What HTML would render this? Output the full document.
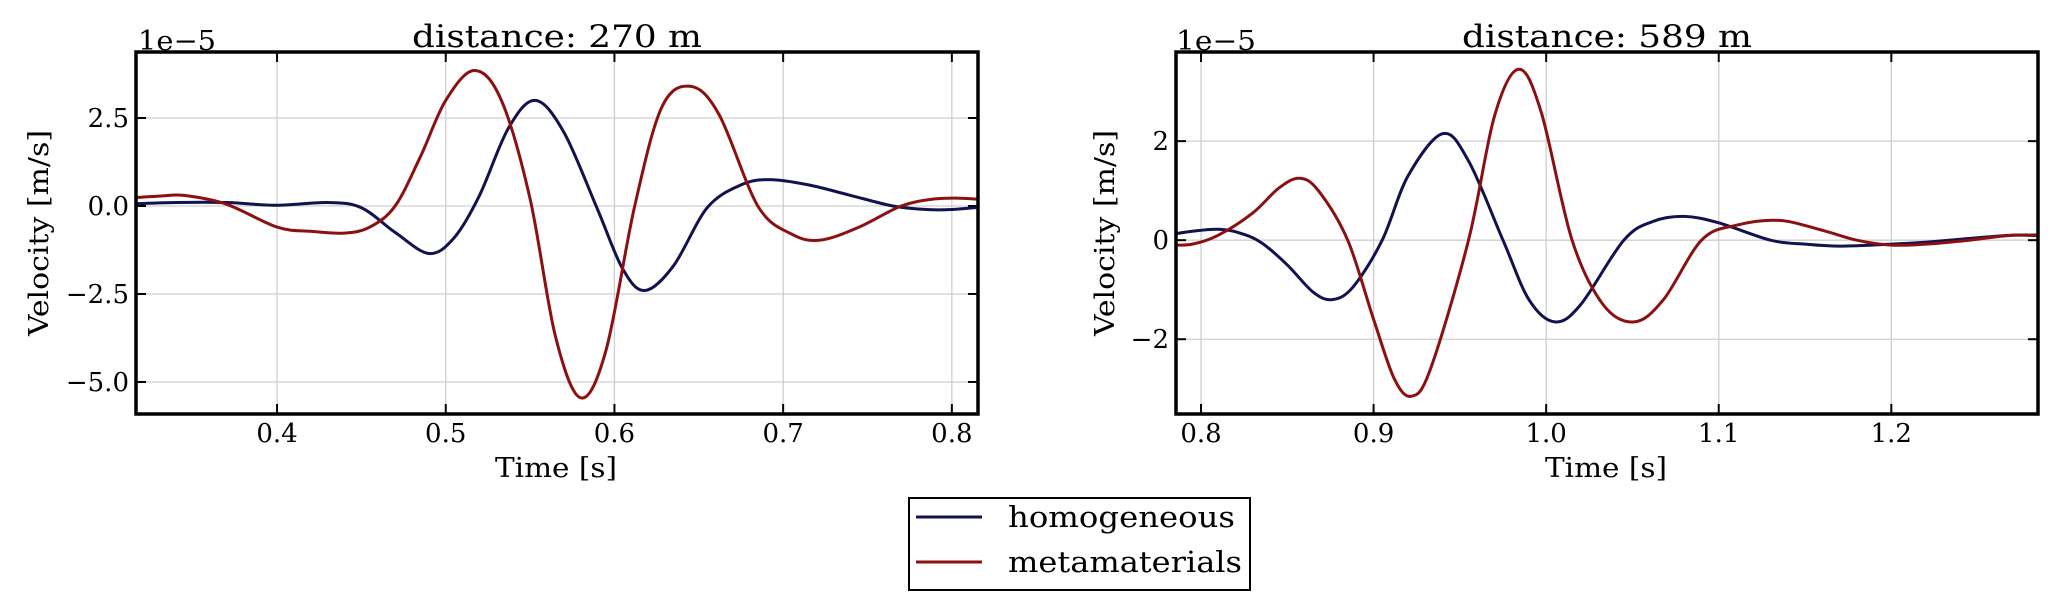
<!DOCTYPE html>
<html><head><meta charset="utf-8">
<style>
html,body{margin:0;padding:0;background:#fff;}
svg{display:block;}
text{font-family:"DejaVu Serif","Liberation Serif",serif;fill:#000;}
</style></head>
<body>
<svg id="s" width="2067" height="608" xmlns="http://www.w3.org/2000/svg">
<g id="g1"></g>
<g id="g2"></g>
<text x="557" y="47" font-size="31" text-anchor="middle" textLength="290" lengthAdjust="spacingAndGlyphs">distance: 270 m</text>
<text x="1607" y="47" font-size="31" text-anchor="middle" textLength="290" lengthAdjust="spacingAndGlyphs">distance: 589 m</text>
<text x="138" y="50" font-size="27" textLength="78" lengthAdjust="spacingAndGlyphs">1e−5</text>
<text x="1176" y="50" font-size="27" textLength="80" lengthAdjust="spacingAndGlyphs">1e−5</text>
<text x="556" y="477" font-size="27" text-anchor="middle" textLength="122" lengthAdjust="spacingAndGlyphs">Time [s]</text>
<text x="1606" y="477" font-size="27" text-anchor="middle" textLength="122" lengthAdjust="spacingAndGlyphs">Time [s]</text>
<text transform="translate(48,233) rotate(-90)" font-size="27" text-anchor="middle" textLength="206" lengthAdjust="spacingAndGlyphs">Velocity [m/s]</text>
<text transform="translate(1114,233) rotate(-90)" font-size="27" text-anchor="middle" textLength="206" lengthAdjust="spacingAndGlyphs">Velocity [m/s]</text>
<rect x="909" y="498" width="341" height="92" fill="#fff" stroke="#000" stroke-width="2"/>
<line x1="916" y1="517" x2="982" y2="517" stroke="#12124f" stroke-width="3"/>
<line x1="916" y1="562" x2="982" y2="562" stroke="#8b1010" stroke-width="3"/>
<text x="1008" y="527" font-size="29" textLength="227" lengthAdjust="spacingAndGlyphs">homogeneous</text>
<text x="1008" y="572" font-size="29" textLength="234" lengthAdjust="spacingAndGlyphs">metamaterials</text>
</svg>
<script>
const NS="http://www.w3.org/2000/svg";
function el(p,t,a){const e=document.createElementNS(NS,t);for(const k in a)e.setAttribute(k,a[k]);p.appendChild(e);return e;}
function catmull(pts){let d="M"+pts[0][0].toFixed(1)+","+pts[0][1].toFixed(1);
for(let i=0;i<pts.length-1;i++){const p0=pts[i-1]||pts[i],p1=pts[i],p2=pts[i+1],p3=pts[i+2]||p2;
const c1=[p1[0]+(p2[0]-p0[0])/6,p1[1]+(p2[1]-p0[1])/6],c2=[p2[0]-(p3[0]-p1[0])/6,p2[1]-(p3[1]-p1[1])/6];
d+="C"+c1.map(v=>v.toFixed(1))+" "+c2.map(v=>v.toFixed(1))+" "+p2.map(v=>v.toFixed(1));}return d;}
function plot(g,ax){
 const {x0,x1,y0,y1,t0,t1,v0,v1,xt,yt,ylab,series}=ax;
 const X=t=>x0+(t-t0)/(t1-t0)*(x1-x0), Y=v=>y1-(v-v0)/(v1-v0)*(y1-y0);
 const cp=el(g,"clipPath",{id:"c"+x0});el(cp,"rect",{x:x0,y:y0,width:x1-x0,height:y1-y0});
 xt.forEach((t,i)=>{const x=X(t);el(g,"line",{x1:x,x2:x,y1:y0,y2:y1,stroke:"#cfcfcf","stroke-width":1.3});
  el(g,"line",{x1:x,x2:x,y1:y1,y2:y1-10,stroke:"#000","stroke-width":2});
  el(g,"line",{x1:x,x2:x,y1:y0,y2:y0+10,stroke:"#000","stroke-width":2});
  const tx=el(g,"text",{x:x,y:442,"font-size":26,"text-anchor":"middle"});tx.textContent=t.toFixed(1);});
 yt.forEach((v,i)=>{const y=Y(v);el(g,"line",{x1:x0,x2:x1,y1:y,y2:y,stroke:"#cfcfcf","stroke-width":1.3});
  el(g,"line",{x1:x0,x2:x0+10,y1:y,y2:y,stroke:"#000","stroke-width":2});
  el(g,"line",{x1:x1,x2:x1-10,y1:y,y2:y,stroke:"#000","stroke-width":2});
  const tx=el(g,"text",{x:x0-7,y:y+9,"font-size":26,"text-anchor":"end"});tx.textContent=ylab[i];});
 series.forEach(s=>{el(g,"path",{d:catmull(s.p.map(q=>[X(q[0]),Y(q[1])])),fill:"none",stroke:s.c,"stroke-width":3,"clip-path":"url(#c"+x0+")"});});
 el(g,"rect",{x:x0,y:y0,width:x1-x0,height:y1-y0,fill:"none",stroke:"#000","stroke-width":3.5});
}
const B="#12124f",R="#8b1010";
plot(document.getElementById("g1"),{x0:136,x1:978,y0:52,y1:414,t0:0.3164,t1:0.8155,v0:-5.91,v1:4.375,
 xt:[0.4,0.5,0.6,0.7,0.8],yt:[2.5,0,-2.5,-5],ylab:["2.5","0.0","\u22122.5","\u22125.0"],
 series:[
 {c:B,p:[[0.31,0.05],[0.34,0.1],[0.37,0.1],[0.4,0.02],[0.43,0.1],[0.45,-0.05],[0.47,-0.75],[0.49,-1.35],[0.505,-0.9],[0.52,0.3],[0.537,2.2],[0.553,3.0],[0.57,2.1],[0.59,-0.1],[0.605,-1.8],[0.618,-2.4],[0.635,-1.7],[0.655,-0.05],[0.675,0.6],[0.692,0.75],[0.715,0.6],[0.74,0.3],[0.765,0.0],[0.785,-0.1],[0.8,-0.1],[0.82,-0.02]]},
 {c:R,p:[[0.31,0.22],[0.33,0.28],[0.345,0.3],[0.37,0.05],[0.4,-0.6],[0.42,-0.72],[0.44,-0.77],[0.455,-0.6],[0.47,0.0],[0.485,1.4],[0.5,3.0],[0.517,3.85],[0.533,3.0],[0.55,0.2],[0.565,-3.7],[0.58,-5.45],[0.595,-4.1],[0.612,0.0],[0.628,2.8],[0.645,3.4],[0.662,2.6],[0.685,0.0],[0.705,-0.8],[0.722,-0.97],[0.745,-0.6],[0.77,0.0],[0.79,0.2],[0.805,0.22],[0.82,0.18]]}
 ]});
plot(document.getElementById("g2"),{x0:1176,x1:2038,y0:52,y1:414,t0:0.7855,t1:1.285,v0:-3.51,v1:3.8,
 xt:[0.8,0.9,1.0,1.1,1.2],yt:[2,0,-2],ylab:["2","0","\u22122"],
 series:[
 {c:B,p:[[0.78,0.1],[0.795,0.18],[0.81,0.22],[0.822,0.15],[0.835,-0.05],[0.85,-0.5],[0.865,-1.05],[0.876,-1.2],[0.888,-0.95],[0.905,0.0],[0.92,1.3],[0.94,2.15],[0.955,1.6],[0.975,0.0],[0.99,-1.2],[1.005,-1.65],[1.02,-1.3],[1.045,0.0],[1.062,0.38],[1.08,0.48],[1.1,0.35],[1.13,0.0],[1.15,-0.08],[1.17,-0.12],[1.2,-0.08],[1.22,-0.04],[1.25,0.05],[1.27,0.1],[1.29,0.1]]},
 {c:R,p:[[0.78,-0.1],[0.795,-0.08],[0.81,0.1],[0.83,0.55],[0.845,1.05],[0.857,1.25],[0.868,1.0],[0.885,0.0],[0.9,-1.6],[0.912,-2.8],[0.922,-3.15],[0.933,-2.6],[0.955,0.0],[0.97,2.5],[0.984,3.45],[0.997,2.6],[1.015,0.0],[1.033,-1.3],[1.051,-1.65],[1.068,-1.2],[1.09,0.0],[1.11,0.3],[1.135,0.4],[1.16,0.2],[1.18,0.0],[1.2,-0.1],[1.22,-0.08],[1.245,0.0],[1.27,0.1],[1.29,0.08]]}
 ]});
</script>
</body></html>
